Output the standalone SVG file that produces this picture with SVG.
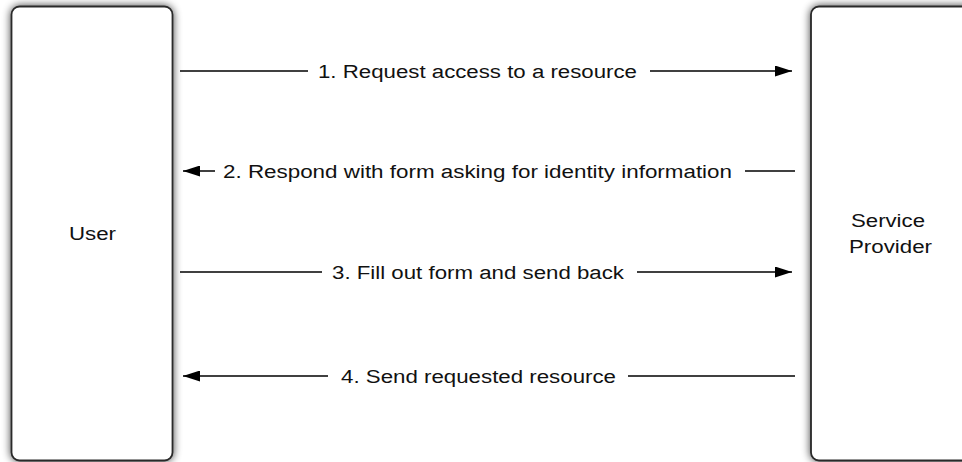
<svg xmlns="http://www.w3.org/2000/svg" width="962" height="462" viewBox="0 0 962 462">
<style>
.box{fill:#fff;stroke:#2a2a2a;stroke-width:1.8;filter:url(#sh)}
.lbl{font-family:"Liberation Sans",Arial,sans-serif;font-size:18px;fill:#111}
.c{fill:none;stroke:#000;stroke-width:1.5}
</style>
<defs>
<filter id="sh" x="-20%" y="-5%" width="140%" height="110%">
<feGaussianBlur in="SourceAlpha" stdDeviation="4"/>
<feComponentTransfer><feFuncA type="linear" slope="0.75"/></feComponentTransfer>
<feMerge><feMergeNode/><feMergeNode in="SourceGraphic"/></feMerge>
</filter>
<marker id="ah" viewBox="0 0 17 11" refX="17" refY="5.5" markerWidth="17" markerHeight="11" markerUnits="userSpaceOnUse" orient="auto">
<path d="M0,0 L17,5.5 L0,11 Z" fill="#000"/>
</marker>
</defs>
<g id="user">
<rect class="box" x="11.5" y="6.5" width="161" height="454" rx="8"/>
<text class="lbl" x="69" y="240" textLength="47" lengthAdjust="spacingAndGlyphs">User</text>
</g>
<g id="service-provider">
<rect class="box" x="811" y="6.5" width="180" height="454" rx="8"/>
<text class="lbl" x="851" y="227" textLength="74" lengthAdjust="spacingAndGlyphs">Service</text>
<text class="lbl" x="849" y="253" textLength="83" lengthAdjust="spacingAndGlyphs">Provider</text>
</g>
<g id="connectors">
<path class="c" d="M180,71 H308"/>
<path class="c" d="M650,71 H792" marker-end="url(#ah)"/>
<path class="c" d="M795,171 H745"/>
<path class="c" d="M215,171 H183" marker-end="url(#ah)"/>
<path class="c" d="M180,272 H322"/>
<path class="c" d="M637,272 H792" marker-end="url(#ah)"/>
<path class="c" d="M795,376 H628"/>
<path class="c" d="M328,376 H183" marker-end="url(#ah)"/>
<text class="lbl" x="318" y="77.5" textLength="319" lengthAdjust="spacingAndGlyphs">1. Request access to a resource</text>
<text class="lbl" x="223" y="177.5" textLength="509" lengthAdjust="spacingAndGlyphs">2. Respond with form asking for identity information</text>
<text class="lbl" x="332" y="278.5" textLength="292" lengthAdjust="spacingAndGlyphs">3. Fill out form and send back</text>
<text class="lbl" x="341" y="382.5" textLength="275" lengthAdjust="spacingAndGlyphs">4. Send requested resource</text>
</g>
</svg>
